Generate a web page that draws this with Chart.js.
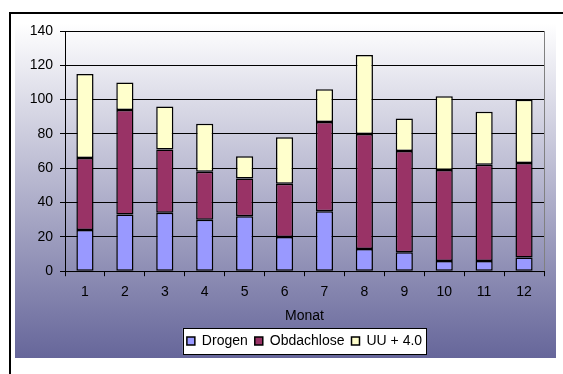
<!DOCTYPE html>
<html>
<head>
<meta charset="utf-8">
<script src="https://cdn.jsdelivr.net/npm/chart.js@4/dist/chart.umd.min.js"></script>
<style>
  html, body { margin: 0; padding: 0; background: #fff; }
  #wrap { width: 563px; height: 374px; }
</style>
</head>
<body>
<div id="wrap"><canvas id="c" width="563" height="374"></canvas></div>
<script>
// Monthly counts per category
const months = ['1', '2', '3', '4', '5', '6', '7', '8', '9', '10', '11', '12'];
const drogen = [24, 33, 34, 30, 32, 20, 35, 13, 11, 6, 6, 8];
const obdachlose = [42, 61, 37, 28, 22, 31, 52, 67, 59, 53, 56, 55];
const uu = [49, 16, 25, 28, 13, 27, 19, 46, 19, 43, 31, 37];
const yMin = 0, yMax = 140, yStep = 20;

const FONT = 'Liberation Sans, Arial, sans-serif';

// Background gradient, frame, plot border and the white legend box
const backdrop = {
  id: 'backdrop',
  beforeDraw(chart) {
    const ctx = chart.ctx;
    const W = chart.width, H = chart.height;
    ctx.save();
    ctx.fillStyle = '#ffffff';
    ctx.fillRect(0, 0, W, H);

    const gTop = 23, gBottom = 358, gLeft = 15, gRight = 556;
    const g = ctx.createLinearGradient(0, gTop, 0, gBottom);
    g.addColorStop(0, '#ffffff');
    g.addColorStop(1, '#66669a');
    ctx.fillStyle = g;
    ctx.fillRect(gLeft, gTop, gRight - gLeft, gBottom - gTop);

    // open frame: left and top edges
    ctx.strokeStyle = '#000';
    ctx.lineWidth = 2;
    ctx.beginPath();
    ctx.moveTo(10, H);
    ctx.lineTo(10, 13);
    ctx.lineTo(W, 13);
    ctx.stroke();

    // plot area border
    const a = chart.chartArea;
    ctx.strokeStyle = '#808080';
    ctx.lineWidth = 1;
    ctx.strokeRect(a.left + 0.5, a.top + 0.5, a.right - a.left, a.bottom - a.top);

    // legend box
    const boxes = chart.legend && chart.legend.legendHitBoxes;
    if (boxes && boxes.length) {
      let x0 = Infinity, x1 = -Infinity, y0 = Infinity, y1 = -Infinity;
      boxes.forEach(b => {
        x0 = Math.min(x0, b.left); x1 = Math.max(x1, b.left + b.width);
        y0 = Math.min(y0, b.top); y1 = Math.max(y1, b.top + b.height);
      });
      const px = 4, py = 6;
      ctx.fillStyle = '#ffffff';
      ctx.fillRect(x0 - px, y0 - py, x1 - x0 + 2 * px, y1 - y0 + 2 * py);
      ctx.strokeStyle = '#000';
      ctx.lineWidth = 1;
      ctx.strokeRect(Math.round(x0 - px) + 0.5, Math.round(y0 - py) + 0.5,
                     Math.round(x1 - x0 + 2 * px), Math.round(y1 - y0 + 2 * py));
    }
    ctx.restore();
  }
};

const barStyle = { borderColor: '#000', borderWidth: 1.5, borderSkipped: false,
                   barPercentage: 0.43, categoryPercentage: 1 };

new Chart(document.getElementById('c'), {
  type: 'bar',
  data: {
    labels: months,
    datasets: [
      Object.assign({ label: 'Drogen', data: drogen, backgroundColor: '#9999ff' }, barStyle),
      Object.assign({ label: 'Obdachlose', data: obdachlose, backgroundColor: '#993366' }, barStyle),
      Object.assign({ label: 'UU + 4.0', data: uu, backgroundColor: '#ffffcc' }, barStyle)
    ]
  },
  options: {
    responsive: false,
    animation: false,
    devicePixelRatio: 1,
    layout: { padding: { left: 10, right: 19, top: 31, bottom: 16 } },
    plugins: {
      tooltip: { enabled: false },
      legend: {
        position: 'bottom',
        fullSize: false,
        labels: {
          color: '#000',
          boxWidth: 8,
          boxHeight: 8,
          padding: 7,
          font: { family: FONT, size: 14 }
        }
      }
    },
    scales: {
      x: {
        stacked: true,
        grid: { offset: true, drawOnChartArea: false, color: '#000', tickLength: 5 },
        border: { color: '#000', width: 1 },
        ticks: { color: '#000', padding: 8, font: { family: FONT, size: 14 } },
        title: { display: true, text: 'Monat', color: '#000',
                 font: { family: FONT, size: 14, lineHeight: 1 }, padding: { top: 0, bottom: 4 } }
      },
      y: {
        stacked: true,
        min: yMin,
        max: yMax,
        ticks: { stepSize: yStep, color: '#000', padding: 7, font: { family: FONT, size: 14 } },
        grid: { color: '#000', tickLength: 5 },
        border: { color: '#000', width: 1 },
        afterFit(scale) { scale.width = 55; }
      }
    }
  },
  plugins: [backdrop]
});
</script>
</body>
</html>
